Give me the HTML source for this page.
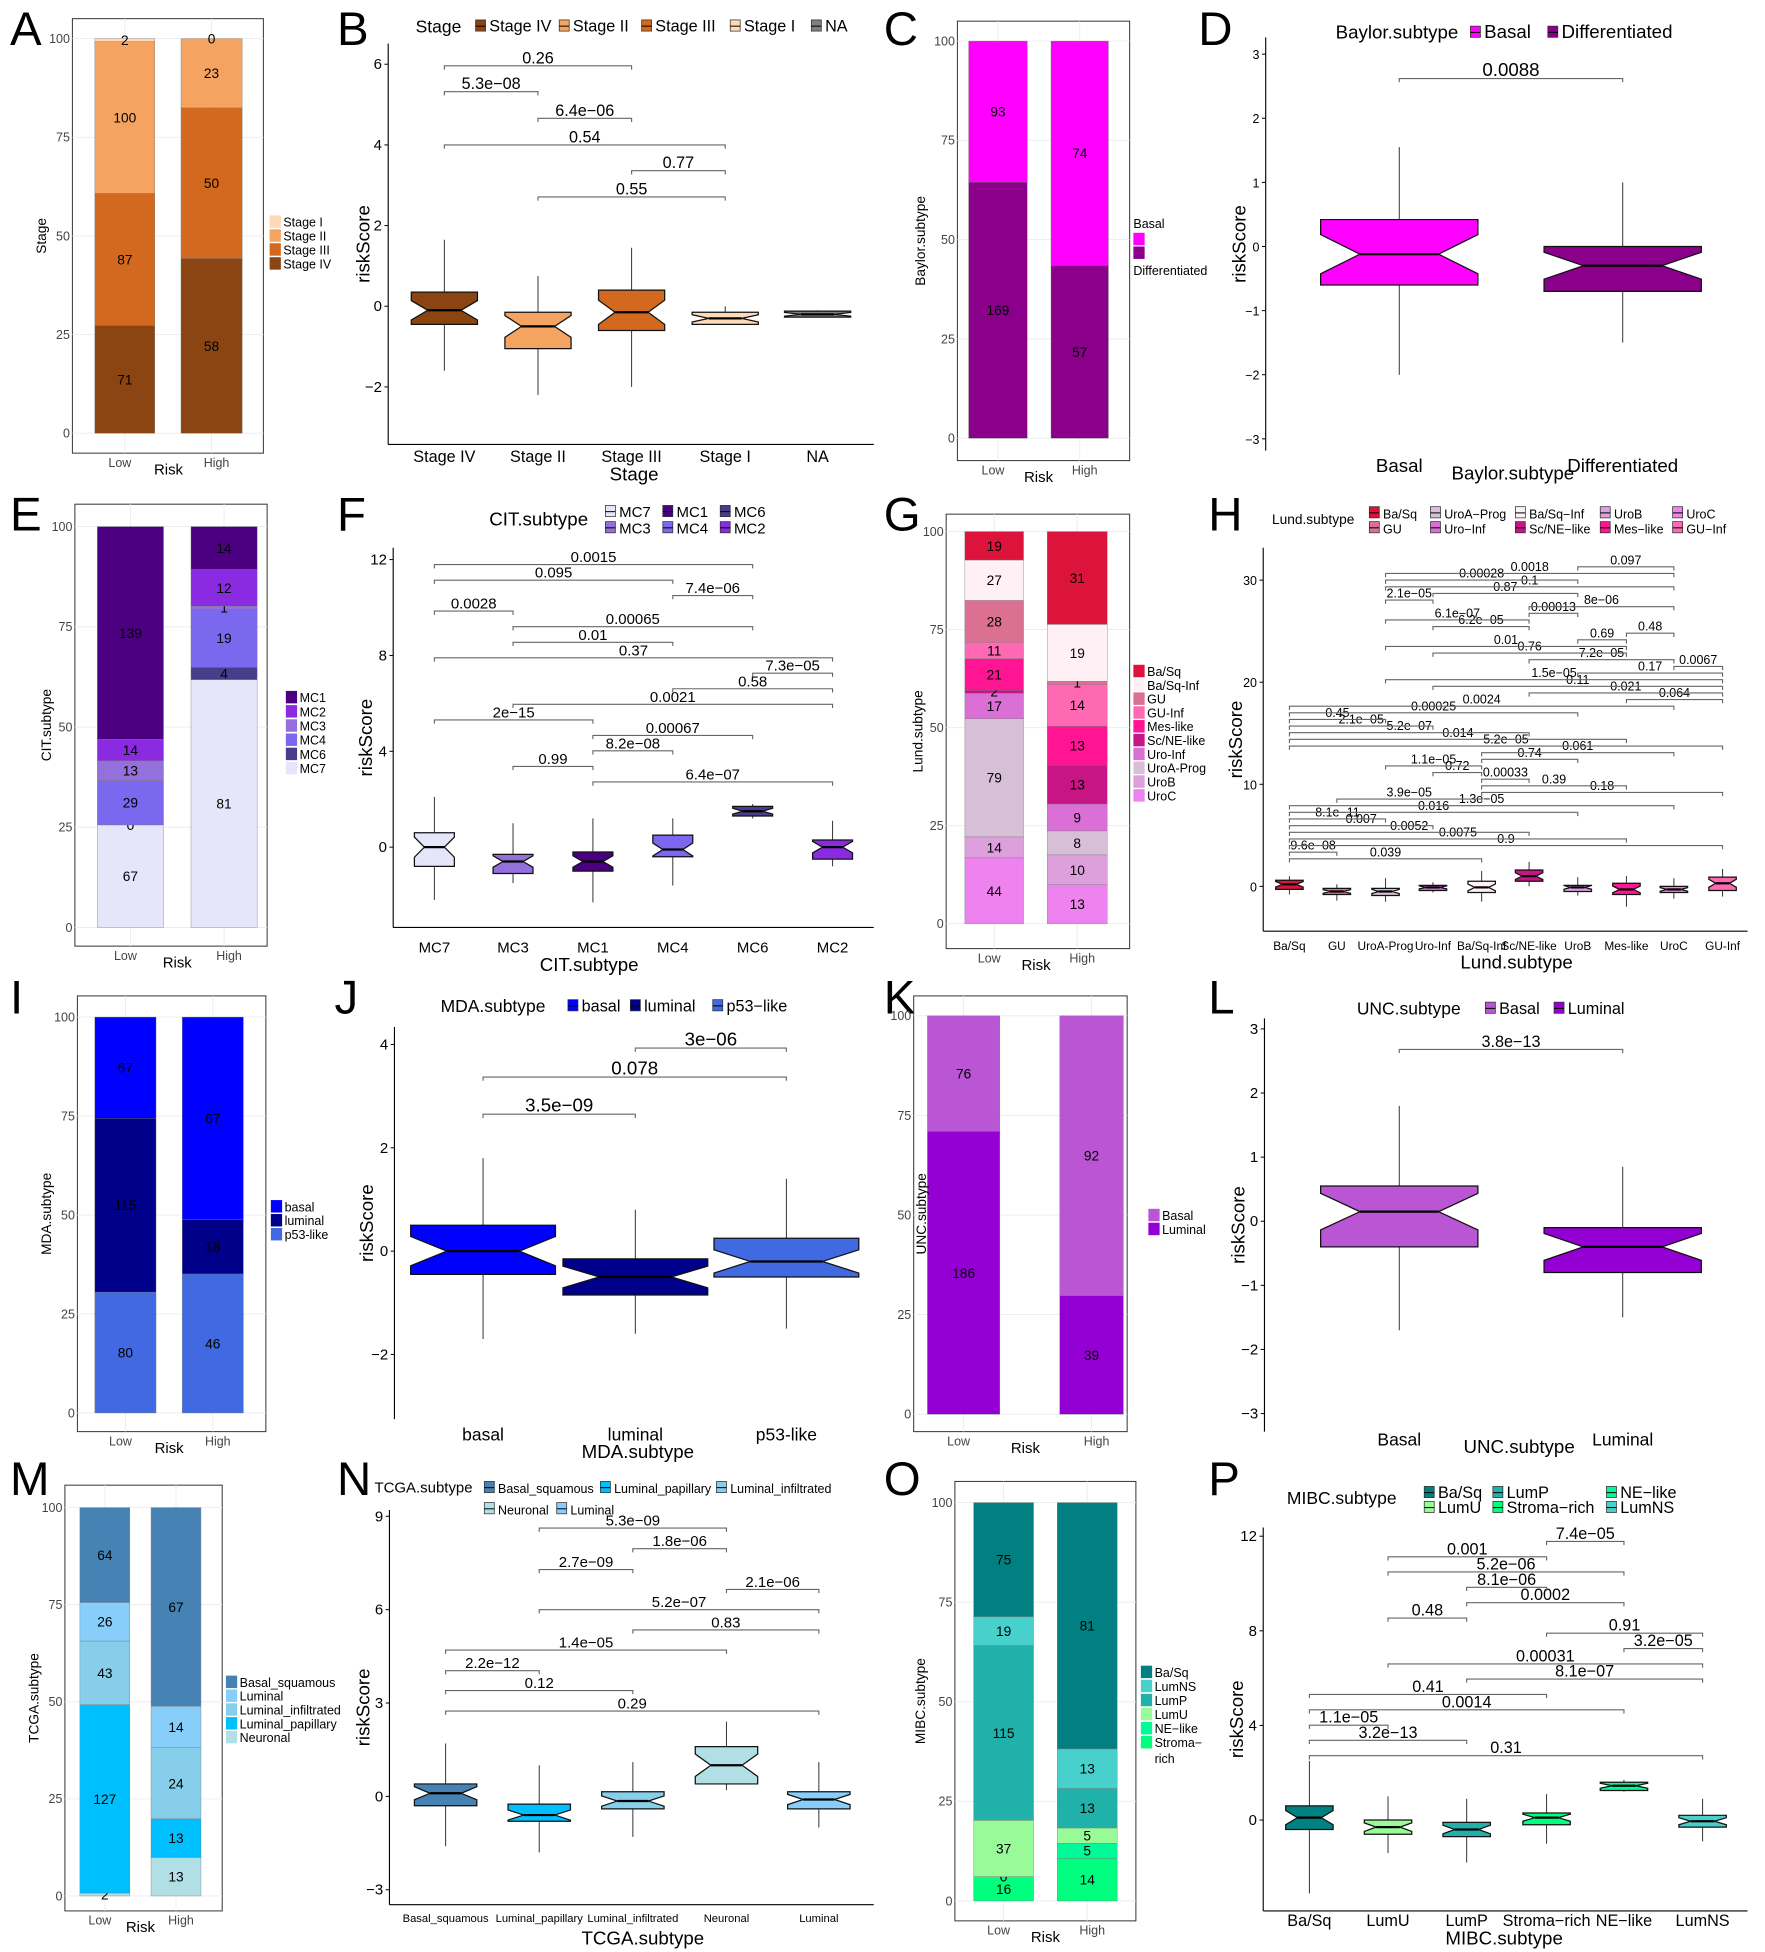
<!DOCTYPE html>
<html><head><meta charset="utf-8">
<style>
html,body{margin:0;padding:0;background:#fff;}
svg{display:block;font-family:"Liberation Sans",sans-serif;}
</style></head>
<body>
<svg id="fig" xmlns="http://www.w3.org/2000/svg" width="1765" height="1952" viewBox="0 0 1414 1568" preserveAspectRatio="none"></svg>
<script>
// ---------------- DATA ----------------
const A_groups=['Stage IV','Stage III','Stage II','Stage I'];
const A_low=[71,87,100,2];
const A_high=[58,50,23,0];
const C_groups=['Differentiated','Basal'];
const C_low=[169,93];
const C_high=[57,74];
const E_groups=['MC7','MC6','MC4','MC3','MC2','MC1'];
const E_low=[67,0,29,13,14,139];
const E_high=[81,4,19,1,12,14];
const G_groups=['UroC','UroB','UroA-Prog','Uro-Inf','Sc/NE-like','Mes-like','GU-Inf','GU','Ba/Sq-Inf','Ba/Sq'];
const G_low=[44,14,79,17,2,21,11,28,27,19];
const G_high=[13,10,8,9,13,13,14,1,19,31];
const I_groups=['p53-like','luminal','basal'];
const I_low=[80,115,67];
const I_high=[46,18,67];
const K_groups=['Luminal','Basal'];
const K_low=[186,76];
const K_high=[39,92];
const M_groups=['Neuronal','Luminal_papillary','Luminal_infiltrated','Luminal','Basal_squamous'];
const M_low=[2,127,43,26,64];
const M_high=[13,13,24,14,67];
const O_groups=['Stroma-rich','NE-like','LumU','LumP','LumNS','Ba/Sq'];
const O_low=[16,0,37,115,19,75];
const O_high=[14,5,5,13,13,81];

const B_cats=['Stage IV','Stage II','Stage III','Stage I','NA'];
const B_q1=[-0.45,-1.05,-0.6,-0.45,-0.27];
const B_med=[-0.1,-0.5,-0.15,-0.3,-0.2];
const B_q3=[0.35,-0.15,0.4,-0.15,-0.12];
const B_lo=[-1.6,-2.2,-2.0,-0.45,-0.27];
const B_hi=[1.65,0.75,1.45,0.0,-0.1];
const B_ticks=[-2,0,2,4,6];
const B_pairs=[[1,3],[2,3],[0,3],[1,2],[0,1],[0,2]];
const B_levels=[2.71,3.36,4.0,4.66,5.32,5.96];
const B_labels=['0.55','0.77','0.54','6.4e-06','5.3e-08','0.26'];
const D_cats=['Basal','Differentiated'];
const D_q1=[-0.6,-0.7];
const D_med=[-0.12,-0.3];
const D_q3=[0.42,0.0];
const D_lo=[-2.0,-1.5];
const D_hi=[1.55,1.0];
const D_ticks=[-3,-2,-1,0,1,2,3];
const D_pairs=[[0,1]];
const D_levels=[2.62];
const D_labels=['0.0088'];
const F_cats=['MC7','MC3','MC1','MC4','MC6','MC2'];
const F_q1=[-0.8,-1.1,-1.0,-0.4,1.3,-0.5];
const F_med=[0.0,-0.6,-0.6,-0.1,1.5,0.0];
const F_q3=[0.6,-0.3,-0.2,0.5,1.7,0.3];
const F_lo=[-2.2,-1.5,-2.3,-1.6,1.2,-0.8];
const F_hi=[2.1,1.0,1.2,1.2,1.8,1.1];
const F_ticks=[0,4,8,12];
const F_pairs=[[2,5],[1,2],[2,3],[2,4],[0,2],[1,5],[3,5],[4,5],[0,5],[1,3],[1,4],[0,1],[3,4],[0,3],[0,4]];
const F_labels=['6.4e-07','0.99','8.2e-08','0.00067','2e-15','0.0021','0.58','7.3e-05','0.37','0.01','0.00065','0.0028','7.4e-06','0.095','0.0015'];
const F_levels=[2.72,3.37,4.02,4.66,5.31,5.96,6.61,7.26,7.90,8.55,9.20,9.85,10.50,11.14,11.79];
const H_cats=['Ba/Sq','GU','UroA-Prog','Uro-Inf','Ba/Sq-Inf','Sc/NE-like','UroB','Mes-like','UroC','GU-Inf'];
const H_q1=[-0.3,-0.8,-0.9,-0.4,-0.6,0.5,-0.5,-0.8,-0.6,-0.4];
const H_med=[0.2,-0.5,-0.5,-0.1,-0.1,1.0,-0.1,-0.3,-0.3,0.3];
const H_q3=[0.6,-0.2,-0.2,0.1,0.5,1.6,0.1,0.3,0.0,0.9];
const H_lo=[-0.8,-1.4,-1.5,-0.6,-1.5,0.0,-0.9,-2.0,-1.2,-1.0];
const H_hi=[1.0,0.2,0.8,0.4,1.5,2.4,0.9,1.0,0.8,1.7];
const H_ticks=[0,10,20,30];
const H_pairs=[[0,4],[0,1],[0,9],[0,7],[0,5],[0,3],[0,2],[0,6],[0,8],[1,4],[4,9],[4,7],[4,5],[3,4],[2,4],[4,6],[4,8],[0,9],[0,7],[0,5],[0,3],[0,2],[0,6],[0,8],[7,9],[5,9],[3,9],[2,9],[6,9],[8,9],[5,8],[3,7],[2,7],[6,7],[7,8],[3,5],[2,5],[5,6],[5,8],[2,3],[3,6],[2,8],[2,6],[2,8],[6,8]];
const H_labels=['0.039','9.6e-08','0.9','0.0075','0.0052','0.007','8.1e-11','0.016','1.3e-05','3.9e-05','0.18','0.39','0.00033','0.72','1.1e-05','0.74','0.061','5.2e-05','0.014','5.2e-07','2.1e-05','0.45','0.00025','0.0024','0.064','0.021','0.11','1.5e-05','0.17','0.0067','7.2e-05','0.76','0.01','0.69','0.48','6.2e-05','6.1e-07','0.00013','8e-06','2.1e-05','0.87','0.1','0.00028','0.0018','0.097'];
const H_levels=[2.7,3.35,4.0,4.65,5.3,5.95,6.6,7.25,7.9,8.55,9.2,9.85,10.5,11.15,11.8,12.45,13.1,13.75,14.4,15.05,15.7,16.35,17.0,17.65,18.3,18.95,19.6,20.25,20.9,21.55,22.2,22.85,23.5,24.15,24.8,25.45,26.1,26.75,27.4,28.05,28.7,29.35,30.0,30.65,31.3];
const J_cats=['basal','luminal','p53-like'];
const J_q1=[-0.45,-0.85,-0.5];
const J_med=[0.0,-0.5,-0.2];
const J_q3=[0.5,-0.15,0.25];
const J_lo=[-1.7,-1.6,-1.5];
const J_hi=[1.8,0.8,1.4];
const J_ticks=[-2,0,2,4];
const J_pairs=[[0,1],[0,2],[1,2]];
const J_levels=[2.65,3.37,3.93];
const J_labels=['3.5e-09','0.078','3e-06'];
const L_cats=['Basal','Luminal'];
const L_q1=[-0.4,-0.8];
const L_med=[0.15,-0.4];
const L_q3=[0.55,-0.1];
const L_lo=[-1.7,-1.5];
const L_hi=[1.8,0.85];
const L_ticks=[-3,-2,-1,0,1,2,3];
const L_pairs=[[0,1]];
const L_levels=[2.68];
const L_labels=['3.8e-13'];
const N_cats=['Basal_squamous','Luminal_papillary','Luminal_infiltrated','Neuronal','Luminal'];
const N_q1=[-0.3,-0.8,-0.4,0.4,-0.4];
const N_med=[0.1,-0.6,-0.15,1.0,-0.1];
const N_q3=[0.4,-0.25,0.15,1.6,0.15];
const N_lo=[-1.6,-1.8,-1.3,0.2,-1.0];
const N_hi=[1.7,1.0,1.1,2.4,1.1];
const N_ticks=[-3,0,3,6,9];
const N_pairs=[[0,4],[0,2],[0,1],[0,3],[2,4],[1,4],[3,4],[1,2],[2,3],[1,3]];
const N_levels=[2.74,3.4,4.04,4.7,5.35,6.0,6.65,7.29,7.96,8.62];
const N_labels=['0.29','0.12','2.2e-12','1.4e-05','0.83','5.2e-07','2.1e-06','2.7e-09','1.8e-06','5.3e-09'];
const P_cats=['Ba/Sq','LumU','LumP','Stroma\u2212rich','NE\u2212like','LumNS'];
const P_q1=[-0.4,-0.6,-0.7,-0.2,1.25,-0.3];
const P_med=[0.1,-0.3,-0.4,0.1,1.45,-0.05];
const P_q3=[0.6,0.0,-0.1,0.3,1.6,0.2];
const P_lo=[-3.1,-1.4,-1.8,-1.0,1.2,-0.9];
const P_hi=[2.5,1.0,0.9,1.1,1.7,0.9];
const P_ticks=[0,4,8,12];
const P_pairs=[[0,5],[0,2],[0,1],[0,4],[0,3],[2,5],[1,5],[4,5],[3,5],[1,2],[2,4],[2,3],[1,4],[1,3],[3,4]];
const P_labels=['0.31','3.2e-13','1.1e-05','0.0014','0.41','8.1e-07','0.00031','3.2e-05','0.91','0.48','0.0002','8.1e-06','5.2e-06','0.001','7.4e-05'];
const P_levels=[2.72,3.37,4.01,4.66,5.31,5.96,6.6,7.25,7.9,8.54,9.19,9.84,10.49,11.13,11.78];

// ---------------- HELPERS ----------------
const NS='http://www.w3.org/2000/svg';
const svg=document.getElementById('fig');
function el(tag,attrs,parent){const e=document.createElementNS(NS,tag);for(const k in attrs)e.setAttribute(k,attrs[k]);(parent||svg).appendChild(e);return e;}
function txt(s,x,y,size,anchor,parent,extra){const e=el('text',Object.assign({x:x,y:y,'font-size':size,'text-anchor':anchor||'start',fill:'#000'},extra||{}),parent);e.textContent=s;return e;}
function grp(name,parent){const g=el('g',{},parent);


return g;}

const letters=[['A',8,36],['B',270,36],['C',708,36],['D',960,36],['E',8,426],['F',270,426],['G',708,426],['H',968,426],['I',8,814],['J',268,814],['K',708,814],['L',968,814],['M',8,1201],['N',270,1201],['O',708,1201],['P',968,1201]];
letters.forEach(l=>{const t=txt(l[0],l[1],l[2],38,'start');

});

// ---------------- STACKED BAR PANELS ----------------
function stackPanel(c){
  const g=grp(c.name);
  const Y=p=>c.y0-(c.y0-c.y100)*p/100;
  const fr=el('rect',{x:c.frame[0],y:c.frame[1],width:c.frame[2]-c.frame[0],height:c.frame[3]-c.frame[1],fill:'#fff',stroke:'#333','stroke-width':0.8},g);
  
  
  [0,25,50,75,100].forEach(v=>{
    const gl=el('line',{x1:c.frame[0],x2:c.frame[2],y1:Y(v),y2:Y(v),stroke:'#EBEBEB','stroke-width':0.7},g);
    
    
    const tk=txt(String(v),c.frame[0]-2,Y(v)+3.5,10,'end',g,{fill:'#444','font-stretch':'condensed'});
    
    
  });
  c.bars.forEach((b,bi)=>{
    const gl=el('line',{x1:b[0]+b[1]/2,x2:b[0]+b[1]/2,y1:c.frame[1],y2:c.frame[3],stroke:'#EBEBEB','stroke-width':0.7},g);
    
    
  });
  c.bars.forEach((b,bi)=>{
    const vals=c.values[bi];const tot=vals.reduce((a,v)=>a+v,0);let cum=0;
    vals.forEach((v,si)=>{
      const p0=cum/tot*100;cum+=v;const p1=cum/tot*100;
      const r=el('rect',{x:b[0],y:Y(p1),width:b[1],height:Math.max(0,Y(p0)-Y(p1)),fill:c.colors[si],stroke:'#777','stroke-width':0.3},g);
      
      
      const lt=txt(String(v),b[0]+b[1]/2,(Y(p0)+Y(p1))/2+4,11,'middle',g);
      
      
    });
    const xl=txt(c.cats[bi],b[0]+b[1]/2+(bi===0?-4:4),c.frame[3]+11,10,'middle',g,{fill:'#444'});
    
    
  });
  const rx=txt('Risk',(c.bars[0][0]+c.bars[1][0]+c.bars[1][1])/2,c.frame[3]+17,12,'middle',g);
  
  
  const yt=txt(c.ytitle,c.ytx,(c.frame[1]+c.frame[3])/2,11,'middle',g,{transform:'rotate(-90 '+c.ytx+' '+((c.frame[1]+c.frame[3])/2)+')'});
  
  
  c.legendOrder.forEach((si,k)=>{
    const ly=c.legend[1]+k*c.legend[2];
    const lk=el('rect',{x:c.legend[0],y:ly-5,width:9,height:10,fill:c.colors[si]},g);
    
    
    const lt=txt(c.legendText?c.legendText[k]:c.groups[si],c.legend[0]+11,ly+4,10,'start',g);
    
    
  });
}
function rev(n){return Array.from({length:n},(_, i)=>n-1-i);}

stackPanel({name:'panel-a-stage-bars',frame:[58,15,211,364],y0:348,y100:31,bars:[[76,48],[145,49]],cats:['Low','High'],groups:A_groups,values:[A_low,A_high],
 colors:['#8B4513','#D2691E','#F4A460','#FDD9B5'],legend:[216,178,11.2],legendOrder:rev(4),ytitle:'Stage',ytx:37});
stackPanel({name:'panel-c-baylor-bars',frame:[767,17,905,370],y0:352,y100:33,bars:[[776,47],[842,46]],cats:['Low','High'],groups:C_groups,values:[C_low,C_high],
 colors:['#8B008B','#FF00FF'],legend:[908,192,11],legendOrder:[1,0],legendText:['',''],ytitle:'Baylor.subtype',ytx:741});
(function(){const t=txt('Basal',908,183,10,'start');
const t2=txt('Differentiated',908,221,10,'start');})();
stackPanel({name:'panel-e-cit-bars',frame:[60,405,214,760],y0:745,y100:423,bars:[[78,53],[153,53]],cats:['Low','High'],groups:E_groups,values:[E_low,E_high],
 colors:['#E6E6FA','#483D8B','#7B68EE','#9370DB','#8A2BE2','#4B0082'],legend:[229,560,11.4],legendOrder:[5,4,3,2,1,0],ytitle:'CIT.subtype',ytx:41});
stackPanel({name:'panel-g-lund-bars',frame:[758,413,905,762],y0:742,y100:427,bars:[[773,47],[839,48]],cats:['Low','High'],groups:G_groups,values:[G_low,G_high],
 colors:['#EE82EE','#DDA0DD','#D8BFD8','#DA70D6','#C71585','#FF1493','#FF69B4','#DB7093','#FFF0F5','#DC143C'],legend:[908,539,11.1],legendOrder:rev(10),ytitle:'Lund.subtype',ytx:739});
stackPanel({name:'panel-i-mda-bars',frame:[62,800,213,1150],y0:1135,y100:817,bars:[[76,49],[146,49]],cats:['Low','High'],groups:I_groups,values:[I_low,I_high],
 colors:['#4169E1','#00008B','#0000FF'],legend:[217,969,11.2],legendOrder:[2,1,0],ytitle:'MDA.subtype',ytx:41});
stackPanel({name:'panel-k-unc-bars',frame:[732,800,903,1150],y0:1136,y100:816,bars:[[743,58],[849,51]],cats:['Low','High'],groups:K_groups,values:[K_low,K_high],
 colors:['#9400D3','#BA55D3'],legend:[920,976,11.2],legendOrder:[1,0],ytitle:'UNC.subtype',ytx:742});
stackPanel({name:'panel-m-tcga-bars',frame:[52,1193,178,1535],y0:1523,y100:1211,bars:[[64,40],[121,40]],cats:['Low','High'],groups:M_groups,values:[M_low,M_high],
 colors:['#B0E0E6','#00BFFF','#87CEEB','#87CEFA','#4682B4'],legend:[181,1351,11.1],legendOrder:[4,3,2,1,0],ytitle:'TCGA.subtype',ytx:31});
stackPanel({name:'panel-o-mibc-bars',frame:[765,1190,910,1543],y0:1527,y100:1207,bars:[[780,48],[847,48]],cats:['Low','High'],groups:O_groups,values:[O_low,O_high],
 colors:['#00FF7F','#00FA9A','#98FB98','#20B2AA','#48D1CC','#008080'],legend:[914,1343,11.3],legendOrder:[5,4,3,2,1,0],legendText:['Ba/Sq','LumNS','LumP','LumU','NE\u2212like','Stroma\u2212'],ytitle:'MIBC.subtype',ytx:741});
(function(){const t=txt('rich',925,1416,10,'start');})();

// ---------------- BOXPLOT PANELS ----------------
function boxPanel(c){
  const g=grp(c.name);
  const Y=v=>c.zero-v*c.unit;
  const ax=el('line',{x1:c.ax,x2:c.ax,y1:c.top,y2:c.bottom,stroke:'#000','stroke-width':0.9},g);
  
  
  if(c.xaxis){const bx=el('line',{x1:c.ax,x2:c.right,y1:c.bottom,y2:c.bottom,stroke:'#000','stroke-width':0.9},g);
  
  }
  c.ticks.forEach(v=>{
    const tl=el('line',{x1:c.ax-3,x2:c.ax,y1:Y(v),y2:Y(v),stroke:'#000','stroke-width':0.8},g);
    
    
    const tt=txt(v<0?'\u2212'+(-v):String(v),c.ax-5,Y(v)+4,c.tickSize||12,'end',g);
    
    
  });
  const yt=txt('riskScore',c.ytx,(c.top+c.bottom)/2,15,'middle',g,{transform:'rotate(-90 '+c.ytx+' '+((c.top+c.bottom)/2)+')'});
  
  
  c.cats.forEach((cat,i)=>{
    const x=c.xs[i],w=c.w/2,n=(c.q3[i]-c.q1[i])*0.3;
    const wl=el('line',{x1:x,x2:x,y1:Y(c.lo[i]),y2:Y(c.hi[i]),stroke:'#333','stroke-width':0.8},g);
    
    
    const m=c.med[i];
    const pts=[[x-w,Y(c.q3[i])],[x+w,Y(c.q3[i])],[x+w,Y(m+n)],[x+w/2,Y(m)],[x+w,Y(m-n)],[x+w,Y(c.q1[i])],[x-w,Y(c.q1[i])],[x-w,Y(m-n)],[x-w/2,Y(m)],[x-w,Y(m+n)]];
    const bx=el('polygon',{points:pts.map(p=>p.join(',')).join(' '),fill:c.colors[i],stroke:'#111','stroke-width':1},g);
    
    
    const ml=el('line',{x1:x-w/2,x2:x+w/2,y1:Y(m),y2:Y(m),stroke:'#000','stroke-width':1.8},g);
    
    
    const xl=txt(cat,x,c.labelY,c.labelSize||13,'middle',g);
    
    
  });
  c.pairs.forEach((p,k)=>{
    const y=Y(c.levels[k]),x1=c.xs[p[0]],x2=c.xs[p[1]];
    const br=el('path',{d:'M'+x1+','+(y+3)+' V'+y+' H'+x2+' V'+(y+3),fill:'none',stroke:'#666','stroke-width':0.9},g);
    
    
    const bl=txt(c.labels[k].replace('-','\u2212'),(x1+x2)/2,y-2,c.brSize||13,'middle',g);
    
    
  });
  const xt=txt(c.xtitle,c.xtitlePos[0],c.xtitlePos[1],15,'middle',g);
  
  
  const lt=txt(c.legTitle[0],c.legTitle[1],c.legTitle[2],c.legTitle[3],'start',g);
  
  
  c.legItems.forEach(it=>{
    const k=el('rect',{x:it[1],y:it[2]-5,width:8,height:9,fill:it[3],stroke:'#333','stroke-width':0.6},g);
    
    
    const kl=el('line',{x1:it[1],x2:it[1]+8,y1:it[2],y2:it[2],stroke:'#000','stroke-width':0.8},g);
    
    
    const t=txt(it[0],it[1]+11,it[2]+4.5,c.legSize,'start',g);
    
    
  });
}

boxPanel({name:'panel-b-stage-box',ax:311,top:35,bottom:357,right:700,xaxis:true,zero:246,unit:32.4,ticks:B_ticks,ytx:296,
 cats:B_cats,xs:[356,431,506,581,655],w:53,q1:B_q1,med:B_med,q3:B_q3,lo:B_lo,hi:B_hi,colors:['#8B4513','#F4A460','#D2691E','#FFDAB9','#808080'],
 pairs:B_pairs,levels:B_levels,labels:B_labels,labelY:371,xtitle:'Stage',xtitlePos:[508,386],
 legTitle:['Stage',333,26,14],legSize:13,legItems:[['Stage IV',381,21,'#8B4513'],['Stage II',448,21,'#F4A460'],['Stage III',514,21,'#D2691E'],['Stage I',585,21,'#FFDAB9'],['NA',650,21,'#808080']]});
boxPanel({name:'panel-d-baylor-box',ax:1014,top:30,bottom:362,zero:198,unit:51.5,ticks:D_ticks,tickSize:10,ytx:998,
 cats:D_cats,xs:[1121,1300],w:126,q1:D_q1,med:D_med,q3:D_q3,lo:D_lo,hi:D_hi,colors:['#FF00FF','#8B008B'],
 pairs:D_pairs,levels:D_levels,labels:D_labels,brSize:15,labelY:379,labelSize:15,xtitle:'Baylor.subtype',xtitlePos:[1212,385],
 legTitle:['Baylor.subtype',1070,31,15],legSize:15,legItems:[['Basal',1178,26,'#FF00FF'],['Differentiated',1240,26,'#8B008B']]});
boxPanel({name:'panel-f-cit-box',ax:315,top:440,bottom:745,right:700,xaxis:true,zero:680.5,unit:19.25,ticks:F_ticks,ytx:298,
 cats:F_cats,xs:[348,411,475,539,603,667],w:32,q1:F_q1,med:F_med,q3:F_q3,lo:F_lo,hi:F_hi,colors:['#E6E6FA','#9370DB','#4B0082','#7B68EE','#483D8B','#8A2BE2'],
 pairs:F_pairs,levels:F_levels,labels:F_labels,brSize:12,labelY:765,labelSize:12,xtitle:'CIT.subtype',xtitlePos:[472,780],
 legTitle:['CIT.subtype',392,422,15],legSize:12,legItems:[['MC7',485,411,'#E6E6FA'],['MC1',531,411,'#4B0082'],['MC6',577,411,'#483D8B'],['MC3',485,424,'#9370DB'],['MC4',531,424,'#7B68EE'],['MC2',577,424,'#8A2BE2']]});
boxPanel({name:'panel-h-lund-box',ax:1012,top:440,bottom:748,right:1400,xaxis:true,zero:712,unit:8.2,ticks:H_ticks,tickSize:10,ytx:995,
 cats:H_cats,xs:[1033,1071,1110,1148,1187,1225,1264,1303,1341,1380],w:22,q1:H_q1,med:H_med,q3:H_q3,lo:H_lo,hi:H_hi,
 colors:['#DC143C','#DB7093','#D8BFD8','#DA70D6','#FFF0F5','#C71585','#DDA0DD','#FF1493','#EE82EE','#FF69B4'],
 pairs:H_pairs,levels:H_levels,labels:H_labels,brSize:10,labelY:763,labelSize:9.5,xtitle:'Lund.subtype',xtitlePos:[1215,778],
 legTitle:['Lund.subtype',1019,421,11],legSize:10,legItems:[['Ba/Sq',1097,412,'#DC143C'],['UroA\u2212Prog',1146,412,'#D8BFD8'],['Ba/Sq\u2212Inf',1214,412,'#FFF0F5'],['UroB',1282,412,'#DDA0DD'],['UroC',1340,412,'#EE82EE'],
 ['GU',1097,424,'#DB7093'],['Uro\u2212Inf',1146,424,'#DA70D6'],['Sc/NE\u2212like',1214,424,'#C71585'],['Mes\u2212like',1282,424,'#FF1493'],['GU\u2212Inf',1340,424,'#FF69B4']]});
boxPanel({name:'panel-j-mda-box',ax:316,top:825,bottom:1140,right:700,zero:1005,unit:41.5,ticks:J_ticks,ytx:299,
 cats:J_cats,xs:[387,509,630],w:116,q1:J_q1,med:J_med,q3:J_q3,lo:J_lo,hi:J_hi,colors:['#0000FF','#00008B','#4169E1'],
 pairs:J_pairs,levels:J_levels,labels:J_labels,brSize:15,labelY:1157,labelSize:14,xtitle:'MDA.subtype',xtitlePos:[511,1171],
 legTitle:['MDA.subtype',353,813,14],legSize:13,legItems:[['basal',455,808,'#0000FF'],['luminal',505,808,'#00008B'],['p53\u2212like',571,808,'#4169E1']]});
boxPanel({name:'panel-l-unc-box',ax:1013,top:818,bottom:1150,zero:981,unit:51.5,ticks:L_ticks,ytx:997,
 cats:L_cats,xs:[1121,1300],w:126,q1:L_q1,med:L_med,q3:L_q3,lo:L_lo,hi:L_hi,colors:['#BA55D3','#9400D3'],
 pairs:L_pairs,levels:L_levels,labels:L_labels,brSize:13,labelY:1161,labelSize:14,xtitle:'UNC.subtype',xtitlePos:[1217,1167],
 legTitle:['UNC.subtype',1087,815,14],legSize:13,legItems:[['Basal',1190,810,'#BA55D3'],['Luminal',1245,810,'#9400D3']]});
boxPanel({name:'panel-n-tcga-box',ax:312,top:1213,bottom:1530,right:700,xaxis:true,zero:1443,unit:25,ticks:N_ticks,tickSize:12,ytx:296,
 cats:N_cats,xs:[357,432,507,582,656],w:50,q1:N_q1,med:N_med,q3:N_q3,lo:N_lo,hi:N_hi,colors:['#4682B4','#00BFFF','#87CEEB','#B0E0E6','#87CEFA'],
 pairs:N_pairs,levels:N_levels,labels:N_labels,brSize:12,labelY:1544,labelSize:9,xtitle:'TCGA.subtype',xtitlePos:[515,1562],
 legTitle:['TCGA.subtype',300,1199,12],legSize:10,legItems:[['Basal_squamous',388,1195,'#4682B4'],['Luminal_papillary',481,1195,'#00BFFF'],['Luminal_infiltrated',574,1195,'#87CEEB'],['Neuronal',388,1212,'#B0E0E6'],['Luminal',446,1212,'#87CEFA']]});
boxPanel({name:'panel-p-mibc-box',ax:1012,top:1227,bottom:1535,right:1400,xaxis:true,zero:1462,unit:19,ticks:P_ticks,ytx:996,
 cats:P_cats,xs:[1049,1112,1175,1239,1301,1364],w:38,q1:P_q1,med:P_med,q3:P_q3,lo:P_lo,hi:P_hi,colors:['#008080','#98FB98','#20B2AA','#00FF7F','#00FA9A','#48D1CC'],
 pairs:P_pairs,levels:P_levels,labels:P_labels,brSize:13,labelY:1547,labelSize:13,xtitle:'MIBC.subtype',xtitlePos:[1205,1562],
 legTitle:['MIBC.subtype',1031,1208,14],legSize:13,legItems:[['Ba/Sq',1141,1199,'#008080'],['LumP',1196,1199,'#20B2AA'],['NE\u2212like',1287,1199,'#00FA9A'],['LumU',1141,1211,'#98FB98'],['Stroma\u2212rich',1196,1211,'#00FF7F'],['LumNS',1287,1211,'#48D1CC']]});
</script>
</body></html>
